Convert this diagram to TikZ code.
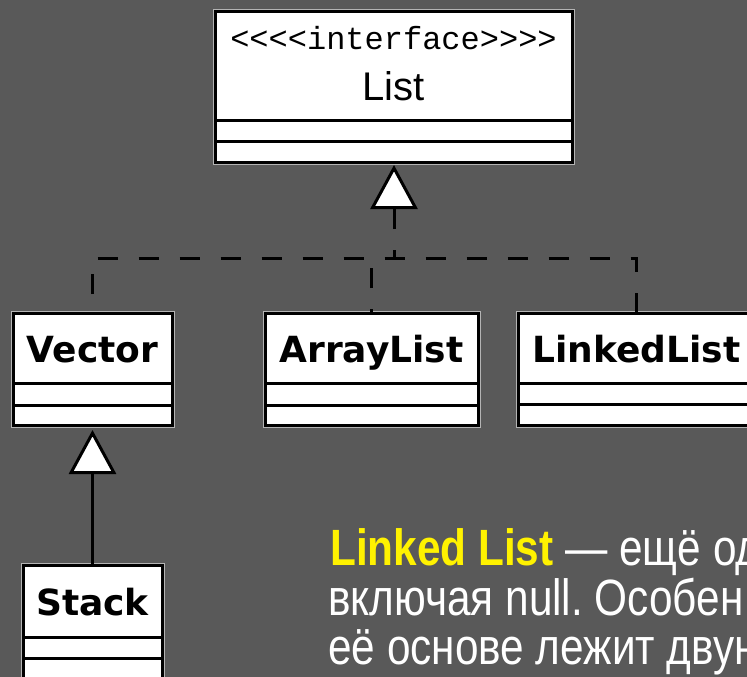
\documentclass[tikz,border=0pt]{standalone}
\usepackage{fontspec}
\setmainfont{Liberation Sans}
\newfontfamily\clsfont{DejaVu Sans}
\newfontfamily\namefont{Liberation Sans}
\newfontfamily\stereofont{Liberation Mono}
\newfontfamily\bodyfont[FakeStretch=0.83]{Liberation Sans}
\usetikzlibrary{arrows.meta}
\definecolor{bg}{HTML}{595959}
\definecolor{halo}{HTML}{B4B4B4}
\frenchspacing
\begin{document}
\begin{tikzpicture}[x=1pt,y=-1pt,
  classbox/.style={draw=black, line width=3pt, fill=white, inner sep=0pt, outer sep=0pt,
    anchor=north west, preaction={draw=halo, line width=5pt}},
  sepline/.style={draw=black, line width=3pt},
  clsname/.style={font=\clsfont\bfseries\fontsize{36}{36}\selectfont, inner sep=0pt, anchor=base},
  realize/.style={draw=black, line width=3pt, dash pattern=on 20pt off 21pt},
  gentip/.style={-{Triangle[fill=white, length=44pt, width=47pt]}},
  inherit/.style={draw=black, line width=3pt},
  body/.style={font=\bodyfont\fontsize{51}{51}\selectfont, text=white, inner sep=0pt, anchor=base west}]

\useasboundingbox (0,0) rectangle (747,677);
\clip (0,0) rectangle (747,677);
\fill[bg] (0,0) rectangle (747,677);

% List interface
\node[classbox, minimum width=357pt, minimum height=150pt] (list) at (215,12) {};
\draw[sepline] ([yshift=-108pt]list.north west) -- ([yshift=-108pt]list.north east);
\draw[sepline] ([yshift=-129pt]list.north west) -- ([yshift=-129pt]list.north east);
\node[font=\stereofont\fontsize{32}{32}\selectfont, inner sep=0pt, anchor=base] (stereo) at (393.5,50)
  {<\kern0pt<\kern0pt<\kern0pt<interface>\kern0pt>\kern0pt>\kern0pt>};
\node[font=\namefont\fontsize{40}{40}\selectfont, inner sep=0pt, anchor=base] (listname) at (393.5,100) {List};

% Vector
\node[classbox, minimum width=159pt, minimum height=112pt] (vector) at (13,313) {};
\draw[sepline] ([yshift=-70pt]vector.north west) -- ([yshift=-70pt]vector.north east);
\draw[sepline] ([yshift=-92pt]vector.north west) -- ([yshift=-92pt]vector.north east);
\node[clsname] (vname) at (92.5,362) {Vector};

% ArrayList
\node[classbox, minimum width=213pt, minimum height=112pt] (array) at (265,313) {};
\draw[sepline] ([yshift=-70pt]array.north west) -- ([yshift=-70pt]array.north east);
\draw[sepline] ([yshift=-92pt]array.north west) -- ([yshift=-92pt]array.north east);
\node[clsname] (aname) at (371.5,362) {ArrayList};

% LinkedList
\node[classbox, minimum width=237pt, minimum height=112pt] (linked) at (518,313) {};
\draw[sepline] ([yshift=-70pt]linked.north west) -- ([yshift=-70pt]linked.north east);
\draw[sepline] ([yshift=-91pt]linked.north west) -- ([yshift=-91pt]linked.north east);
\node[clsname] (lname) at (636.5,362) {LinkedList};

% Stack
\node[classbox, minimum width=139pt, minimum height=115pt] (stack) at (23,565) {};
\draw[sepline] ([yshift=-72pt]stack.north west) -- ([yshift=-72pt]stack.north east);
\draw[sepline] ([yshift=-93pt]stack.north west) -- ([yshift=-93pt]stack.north east);
\node[clsname] (sname) at (92.5,615) {Stack};

% realization connectors
\coordinate (j) at (394,258);
\draw[realize, dash phase=22pt] (vector.north) |- (j) -| (linked.north);
\draw[realize, dash phase=16pt] (array.north) -- (array.north |- j);
\draw[realize, dash phase=12pt, gentip, shorten >=3pt] (j) -- (list.south -| j);

% generalization Stack -> Vector
\draw[inherit, gentip, shorten >=5pt] (stack.north) -- (vector.south);

% text
\node[body] (t1) at (330,565) {{\color{yellow}\bfseries Linked List} — ещё од};
\node[body] (t2) at (328,615) {включая null. Особен};
\node[body] (t3) at (328,664) {её основе лежит двун};
\end{tikzpicture}
\end{document}
